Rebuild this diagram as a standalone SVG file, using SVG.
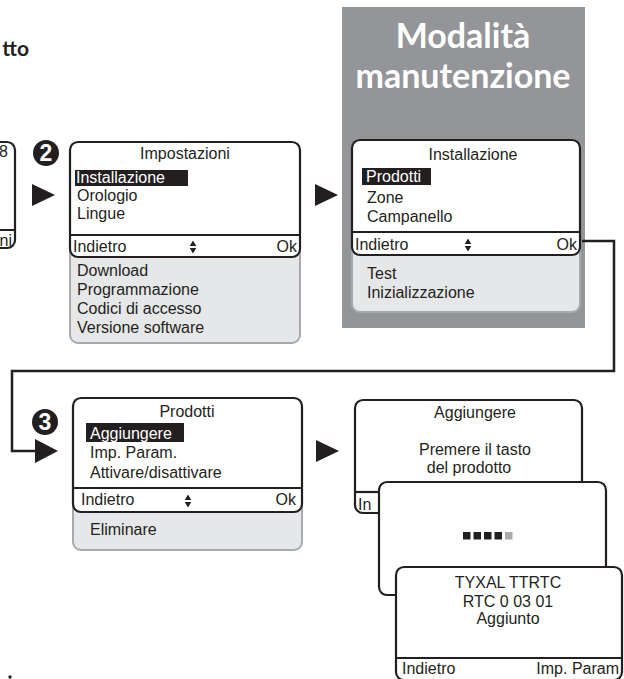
<svg xmlns="http://www.w3.org/2000/svg" width="624" height="679" viewBox="0 0 624 679">
<defs>
<style>
.box{fill:#fff;stroke:#231f20;stroke-width:2.2}
.gbox{fill:#e6e7e8;stroke:#a7a9ac;stroke-width:2}
.div{stroke:#231f20;stroke-width:2.2}
.t{font-family:"Liberation Sans",Arial,Helvetica,sans-serif;font-size:16px;fill:#231f20}
.c{text-anchor:middle}
.e{text-anchor:end}
.w{fill:#fff}
.hl{fill:#231f20}
.conn{fill:none;stroke:#231f20;stroke-width:2.5}
.tri{fill:#231f20}
.num{font-family:"Liberation Sans",Arial,sans-serif;font-size:23px;font-weight:bold;fill:#fff;text-anchor:middle}
.ttl{font-family:Lato,"Open Sans",sans-serif;font-weight:bold;font-size:34px;fill:#fff;text-anchor:middle}
</style>
<path id="ud" d="M-3.3,-1 L3.3,-1 L0,-6.5 Z M-3.3,1 L3.3,1 L0,6.5 Z" fill="#231f20"/>
</defs>
<rect width="624" height="679" fill="#fff"/>

<text x="29" y="56" text-anchor="end" style="font-family:Lato,'Open Sans',sans-serif;font-weight:bold;font-size:21px;fill:#231f20">tto</text>

<g id="prev-screen">
<rect x="-30" y="142" width="45" height="106" rx="8" class="box"/>
<line x1="-30" y1="230" x2="15" y2="230" class="div"/>
<text x="8" y="157" class="t e">8</text>
<text x="12" y="246" class="t e">ni</text>
</g>

<g id="step2">
<circle cx="46" cy="153" r="13" fill="#231f20"/>
<text x="46" y="161" class="num">2</text>
</g>

<g id="impostazioni">
<rect x="70" y="230" width="230" height="113" rx="8" class="gbox"/>
<rect x="70" y="142" width="230" height="115" rx="8" class="box"/>
<line x1="70" y1="235" x2="300" y2="235" class="div"/>
<text x="185" y="159" class="t c">Impostazioni</text>
<rect x="75" y="170" width="113" height="16" class="hl"/>
<text x="76" y="183" class="t w">Installazione</text>
<text x="77" y="201" class="t">Orologio</text>
<text x="77" y="219" class="t">Lingue</text>
<text x="73" y="252" class="t">Indietro</text>
<use href="#ud" x="193" y="247"/>
<text x="297" y="252" class="t e">Ok</text>
<text x="77" y="276" class="t">Download</text>
<text x="77" y="295" class="t">Programmazione</text>
<text x="77" y="314" class="t">Codici di accesso</text>
<text x="77" y="333" class="t">Versione software</text>
</g>

<g id="installazione">
<rect x="342" y="7" width="243" height="321" fill="#939598"/>
<text x="463" y="48" class="ttl">Modalità</text>
<text x="463" y="88" class="ttl">manutenzione</text>
<rect x="352" y="230" width="228" height="82" rx="8" class="gbox"/>
<rect x="352" y="140" width="228" height="115" rx="8" class="box"/>
<line x1="352" y1="232" x2="580" y2="232" class="div"/>
<text x="473" y="160" class="t c">Installazione</text>
<rect x="362" y="168" width="69" height="17" class="hl"/>
<text x="366" y="182" class="t w">Prodotti</text>
<text x="367" y="203" class="t">Zone</text>
<text x="367" y="222" class="t">Campanello</text>
<text x="355" y="250" class="t">Indietro</text>
<use href="#ud" x="468" y="245"/>
<text x="577" y="250" class="t e">Ok</text>
<text x="367" y="279" class="t">Test</text>
<text x="367" y="298" class="t">Inizializzazione</text>
</g>

<g id="step3">
<circle cx="45" cy="422" r="13" fill="#231f20"/>
<text x="45" y="430" class="num">3</text>
</g>

<g id="prodotti">
<rect x="73" y="490" width="229" height="60" rx="8" class="gbox"/>
<rect x="73" y="398" width="229" height="114" rx="8" class="box"/>
<line x1="73" y1="488" x2="302" y2="488" class="div"/>
<text x="187" y="417" class="t c">Prodotti</text>
<rect x="86" y="423" width="98" height="19" class="hl"/>
<text x="90" y="439" class="t w">Aggiungere</text>
<text x="90" y="458" class="t">Imp. Param.</text>
<text x="90" y="478" class="t">Attivare/disattivare</text>
<text x="81" y="505" class="t">Indietro</text>
<use href="#ud" x="188" y="501"/>
<text x="296" y="505" class="t e">Ok</text>
<text x="90" y="535" class="t">Eliminare</text>
</g>

<g id="aggiungere">
<rect x="355" y="400" width="227" height="113" rx="8" class="box"/>
<line x1="355" y1="492" x2="382" y2="492" class="div"/>
<text x="475" y="418" class="t c">Aggiungere</text>
<text x="475" y="455" class="t c">Premere il tasto</text>
<text x="469" y="473" class="t c">del prodotto</text>
<text x="358" y="510" class="t">In</text>
</g>

<g id="attesa">
<rect x="379" y="482" width="227" height="113" rx="8" class="box"/>
<rect x="463" y="532" width="7.5" height="7.5" fill="#231f20"/>
<rect x="473.5" y="532" width="7.5" height="7.5" fill="#231f20"/>
<rect x="484" y="532" width="7.5" height="7.5" fill="#231f20"/>
<rect x="494.5" y="532" width="7.5" height="7.5" fill="#231f20"/>
<rect x="505" y="532" width="7.5" height="7.5" fill="#a7a9ac"/>
</g>

<g id="aggiunto">
<rect x="396" y="567" width="226" height="113" rx="8" class="box"/>
<line x1="396" y1="658" x2="622" y2="658" class="div"/>
<text x="508" y="588" class="t c">TYXAL TTRTC</text>
<text x="508" y="607" class="t c">RTC 0 03 01</text>
<text x="508" y="624" class="t c">Aggiunto</text>
<text x="402" y="674" class="t">Indietro</text>
<text x="619" y="674" class="t e">Imp. Param</text>
</g>

<g id="connectors">
<polygon points="32,184 55,195 32,206" class="tri"/>
<polygon points="315,184 338,195 315,206" class="tri"/>
<path d="M582,241 H614 V371 H12 V451 H40" class="conn"/>
<polygon points="35,439 58,451 35,463" class="tri"/>
<polygon points="316,440 339,451 316,462" class="tri"/>
</g>

<circle cx="10" cy="677" r="1.7" fill="#231f20"/>
</svg>
